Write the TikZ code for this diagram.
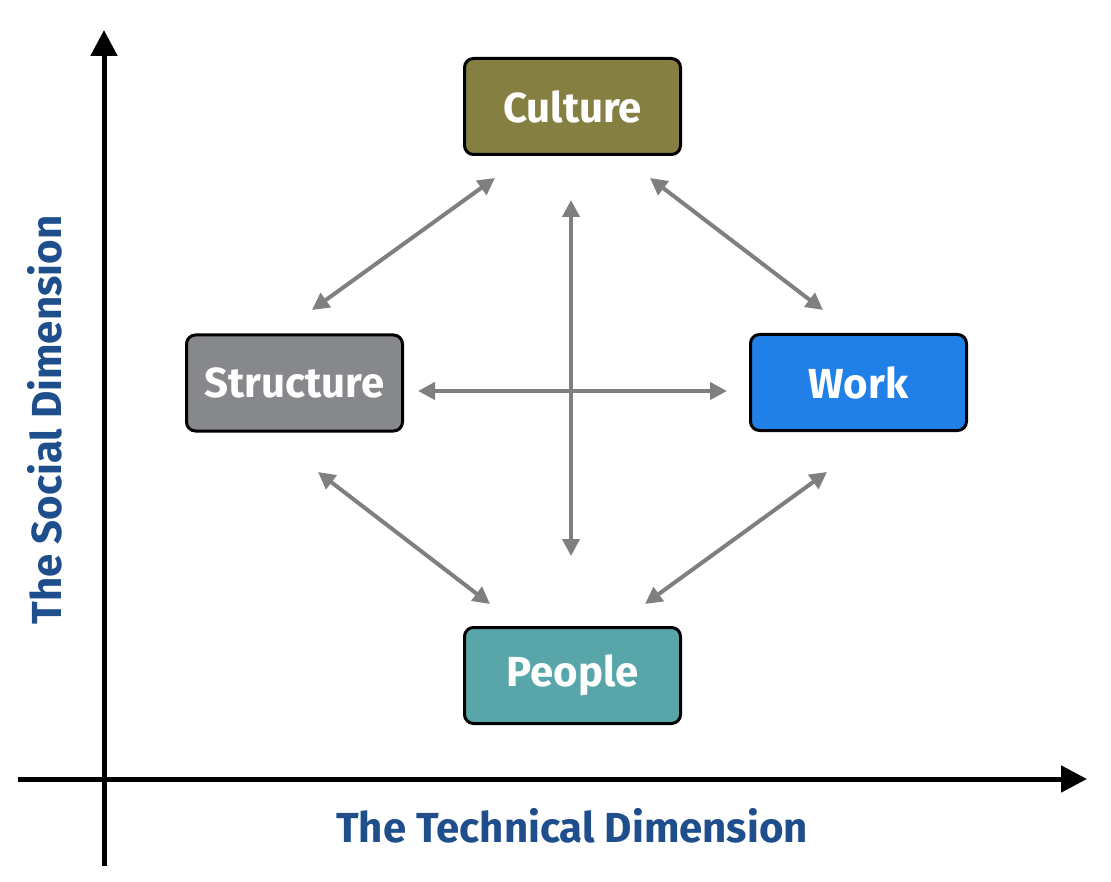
\documentclass[tikz,border=0pt]{standalone}
\usepackage{fontspec}
\setmainfont{Fira Sans}
\usetikzlibrary{arrows.meta}
\definecolor{olivec}{HTML}{857F42}
\definecolor{grayc}{HTML}{87888C}
\definecolor{bluec}{HTML}{2080E8}
\definecolor{tealc}{HTML}{58A6AA}
\definecolor{labc}{HTML}{1F4E8C}
\definecolor{arr}{HTML}{7F7F7F}
\begin{document}
\begin{tikzpicture}[x=1pt,y=-1pt,
 box/.style={draw=black,line width=3pt,rounded corners=9pt,minimum width=216pt,minimum height=96pt,text=white,font=\fontsize{42}{48}\selectfont\bfseries},
 link/.style={draw=arr,line width=4pt,{Triangle[length=17pt,width=17pt]}-{Triangle[length=17pt,width=17pt]}},
 axis/.style={line width=5pt,-{Triangle[length=26pt,width=26pt]}},
 axlab/.style={text=labc,font=\fontsize{42}{48}\selectfont\bfseries}]
\useasboundingbox (0,0) rectangle (1111,882);
\node[box,fill=olivec] (cul) at (572.5,106.5) {Culture};
\node[box,fill=grayc] (str) at (294.5,383) {Structure};
\node[box,fill=bluec] (wrk) at (858.5,382.5) {Work};
\node[box,fill=tealc] (ppl) at (572.5,675.5) {People};
\coordinate (o1) at (104,866); \coordinate (o2) at (104,30);
\coordinate (h1) at (18,779); \coordinate (h2) at (1087,779);
\draw[axis] (o1) -- (o2);
\draw[axis] (h1) -- (h2);
\node[axlab,rotate=90] (yl) at (45,420) {The Social Dimension};
\node[axlab] (xl) at (572,826) {The Technical Dimension};
\coordinate (a1) at (495,178); \coordinate (a2) at (312,310);
\coordinate (b1) at (650,178); \coordinate (b2) at (823,310);
\coordinate (c1) at (318,472); \coordinate (c2) at (490,604);
\coordinate (d1) at (827,472); \coordinate (d2) at (645,604);
\coordinate (v1) at (571,200); \coordinate (v2) at (571,556);
\coordinate (e1) at (418,391); \coordinate (e2) at (727,391);
\draw[link] (a1) -- (a2);
\draw[link] (b1) -- (b2);
\draw[link] (c1) -- (c2);
\draw[link] (d1) -- (d2);
\draw[link] (v1) -- (v2);
\draw[link] (e1) -- (e2);
\end{tikzpicture}
\end{document}
